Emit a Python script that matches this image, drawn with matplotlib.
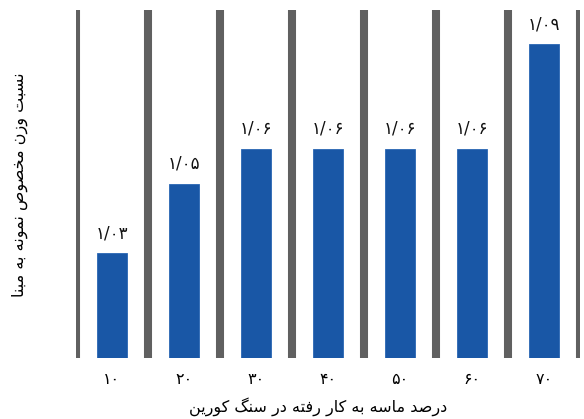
import matplotlib
matplotlib.use("Agg")
import matplotlib.pyplot as plt

# data
sand_percent = ["۱۰", "۲۰", "۳۰", "۴۰", "۵۰", "۶۰", "۷۰"]
ratio = [1.03, 1.05, 1.06, 1.06, 1.06, 1.06, 1.09]
ratio_labels = ["۱/۰۳", "۱/۰۵", "۱/۰۶", "۱/۰۶", "۱/۰۶", "۱/۰۶", "۱/۰۹"]

y_title = "نسبت وزن مخصوص نمونه به مبنا"
x_title = "درصد ماسه به کار رفته در سنگ کورین"

# presentation forms: isolated, final, initial, medial (None = right joining only)
FORMS = {
    "ا": ("\ufe8d", "\ufe8e", None, None),
    "ب": ("\ufe8f", "\ufe90", "\ufe91", "\ufe92"),
    "ت": ("\ufe95", "\ufe96", "\ufe97", "\ufe98"),
    "خ": ("\ufea5", "\ufea6", "\ufea7", "\ufea8"),
    "د": ("\ufea9", "\ufeaa", None, None),
    "ر": ("\ufead", "\ufeae", None, None),
    "ز": ("\ufeaf", "\ufeb0", None, None),
    "س": ("\ufeb1", "\ufeb2", "\ufeb3", "\ufeb4"),
    "ص": ("\ufeb9", "\ufeba", "\ufebb", "\ufebc"),
    "ف": ("\ufed1", "\ufed2", "\ufed3", "\ufed4"),
    "م": ("\ufee1", "\ufee2", "\ufee3", "\ufee4"),
    "ن": ("\ufee5", "\ufee6", "\ufee7", "\ufee8"),
    "ه": ("\ufee9", "\ufeea", "\ufeeb", "\ufeec"),
    "و": ("\ufeed", "\ufeee", None, None),
    "ک": ("\ufb8e", "\ufb8f", "\ufb90", "\ufb91"),
    "گ": ("\ufb92", "\ufb93", "\ufb94", "\ufb95"),
    "ی": ("\ufbfc", "\ufbfd", "\ufbfe", "\ufbff"),
}


def fa(text):
    # crude shaping + right-to-left order, matplotlib does neither
    out = []
    for i, ch in enumerate(text):
        if ch not in FORMS:
            out.append(ch)
            continue
        prev = text[i - 1] if i > 0 else ""
        nxt = text[i + 1] if i + 1 < len(text) else ""
        join_prev = prev in FORMS and FORMS[prev][2] is not None
        join_next = nxt in FORMS and FORMS[ch][2] is not None
        iso, fin, ini, med = FORMS[ch]
        if join_prev and join_next:
            out.append(med)
        elif join_prev:
            out.append(fin)
        elif join_next:
            out.append(ini)
        else:
            out.append(iso)
    return "".join(out)[::-1]


plt.rcParams["font.family"] = ["DejaVu Sans"]

fig = plt.figure(figsize=(5.84, 4.19), dpi=100)
ax = fig.add_axes([0.130, 0.146, 0.863, 0.831])

x = range(len(ratio))
bars = ax.bar(x, ratio, width=0.42, bottom=0, color="#1957a6",
              edgecolor="#2a66b4", linewidth=0.6, zorder=2)

for b in range(len(ratio) + 1):
    ax.axvline(b - 0.5, color="#606060", linewidth=5.8, zorder=1)

for i, v in enumerate(ratio):
    ax.annotate(ratio_labels[i], (i, v), xytext=(0, 8), textcoords="offset points",
                ha="center", va="bottom", fontsize=12, color="#111111")

ax.set_xlim(-0.5, len(ratio) - 0.5)
ax.set_ylim(1.0, 1.1)
ax.set_xticks(list(x))
ax.set_xticklabels(sand_percent, fontsize=11.5)
ax.set_yticks([])
ax.tick_params(axis="x", length=0, pad=10)
for s in ax.spines.values():
    s.set_visible(False)

fig.text(0.545, 1 - 407 / 419, fa(x_title), ha="center", va="center", fontsize=11.5)
fig.text(0.034, 0.56, fa(y_title), rotation=90, ha="center", va="center", fontsize=11.5)

plt.savefig("out.png", dpi=100)
